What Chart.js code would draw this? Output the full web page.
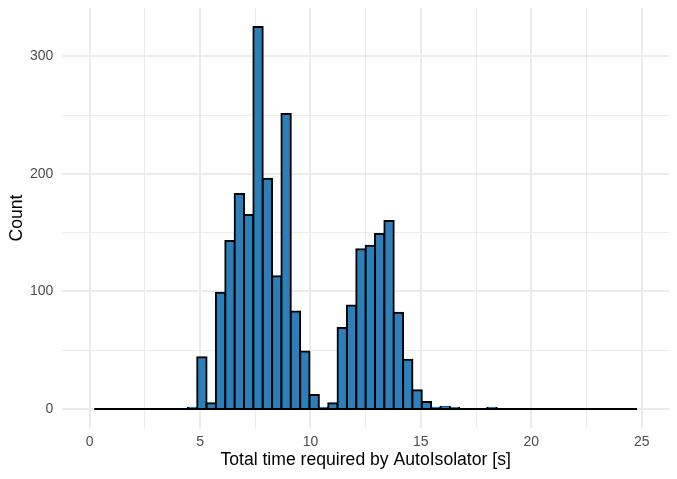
<!DOCTYPE html>
<html>
<head>
<meta charset="utf-8">
<script src="https://cdn.jsdelivr.net/npm/chart.js@4.4.1/dist/chart.umd.min.js"></script>
<style>
  html, body { margin: 0; padding: 0; background: #ffffff; }
  #wrap { width: 677px; height: 479px; }
</style>
</head>
<body>
<div id="wrap"><canvas id="c" width="677" height="479"></canvas></div>
<script>
// ---- data ----
const binWidth = 25 / 59;            // histogram bin width (s)
const firstBin = 1;                  // index of first bin (center = index * binWidth)
const counts = [
  0, 0, 0, 0, 0, 0, 0, 0, 0, 0,
  1, 44, 5, 99, 143, 183, 165, 325, 196, 113,
  251, 83, 49, 12, 1, 5, 69, 88, 136, 139,
  149, 160, 82, 42, 16, 6, 1, 2, 1, 0,
  0, 0, 1, 0, 0, 0, 0, 0, 0, 0,
  0, 0, 0, 0, 0, 0, 0, 0
];
const xTickLabels = [0, 5, 10, 15, 20, 25];
const xMinorTicks = [2.5, 7.5, 12.5, 17.5, 22.5];
const yTickLabels = [0, 100, 200, 300];
const yMinorTicks = [50, 150, 250];
const xTitle = 'Total time required by AutoIsolator [s]';
const yTitle = 'Count';

// ---- build ----
const centers = counts.map((_, i) => (i + firstBin) * binWidth);
const barData = counts.map((v, i) => ({ x: centers[i], y: v }));
const baseLine = [
  { x: centers[0] - binWidth / 2, y: 0 },
  { x: centers[centers.length - 1] + binWidth / 2, y: 0 }
];
const maxCount = Math.max(...counts);

const FONT = "'Liberation Sans', Arial, Helvetica, sans-serif";
const GRID = '#EBEBEB';
const BORDER_W = 2;

const xTicksAll = xTickLabels.concat(xMinorTicks).sort((a, b) => a - b);
const yTicksAll = yTickLabels.concat(yMinorTicks).sort((a, b) => a - b);

new Chart(document.getElementById('c'), {
  type: 'bar',
  data: {
    datasets: [
      {
        type: 'line',
        data: baseLine,
        borderColor: '#000000',
        borderWidth: 2,
        pointRadius: 0,
        fill: false,
        order: 0
      },
      {
        type: 'bar',
        data: barData,
        backgroundColor: '#2C7FB8',
        borderColor: '#000000',
        borderWidth: BORDER_W,
        borderSkipped: 'start',
        inflateAmount: BORDER_W / 2,
        barPercentage: 1,
        categoryPercentage: 1,
        order: 1
      }
    ]
  },
  options: {
    responsive: false,
    animation: false,
    devicePixelRatio: 1,
    layout: { padding: { left: 0, right: 7.7, top: 8, bottom: 0 } },
    plugins: { legend: { display: false }, tooltip: { enabled: false } },
    scales: {
      x: {
        type: 'linear',
        min: -1.25,
        max: 26.25,
        offset: false,
        afterBuildTicks: s => { s.ticks = xTicksAll.map(v => ({ value: v })); },
        afterFit: s => { s.height = 50.9; s.paddingLeft = 0; s.paddingRight = 0; },
        grid: {
          offset: false,
          color: GRID,
          drawTicks: false,
          lineWidth: ctx => (ctx.tick && xTickLabels.includes(ctx.tick.value)) ? 2 : 1
        },
        border: { display: false },
        ticks: {
          autoSkip: false,
          maxRotation: 0,
          padding: 5.5,
          color: '#4D4D4D',
          font: { family: FONT, size: 14 },
          callback: v => xTickLabels.includes(v) ? String(v) : ''
        },
        title: {
          display: true,
          text: xTitle,
          color: '#000000',
          font: { family: FONT, size: 17.6 },
          padding: { top: 0, bottom: 8.6 }
        }
      },
      y: {
        type: 'linear',
        min: -0.05 * maxCount,
        max: 1.05 * maxCount,
        afterBuildTicks: s => { s.ticks = yTicksAll.map(v => ({ value: v })); },
        afterFit: s => { s.width = 62; s.paddingTop = 0; s.paddingBottom = 0; },
        grid: {
          color: GRID,
          drawTicks: false,
          lineWidth: ctx => (ctx.tick && yTickLabels.includes(ctx.tick.value)) ? 2 : 1
        },
        border: { display: false },
        ticks: {
          padding: 8.7,
          color: '#4D4D4D',
          font: { family: FONT, size: 14 },
          callback: v => yTickLabels.includes(v) ? String(v) : ''
        },
        title: {
          display: true,
          text: yTitle,
          color: '#000000',
          font: { family: FONT, size: 17.6 },
          padding: { top: 6.2, bottom: 0 }
        }
      }
    }
  }
});
</script>
</body>
</html>
